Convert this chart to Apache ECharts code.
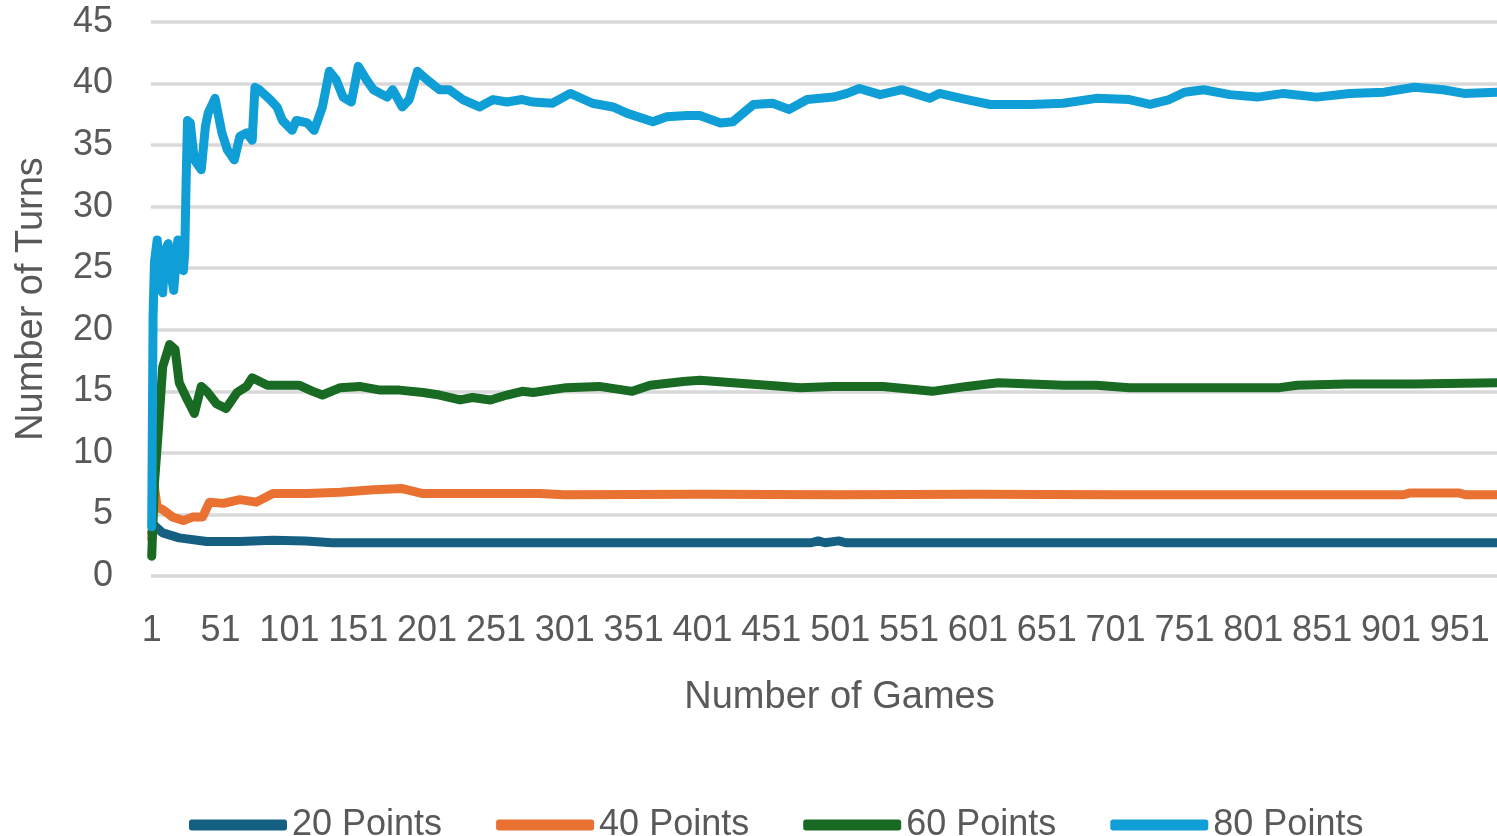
<!DOCTYPE html>
<html>
<head>
<meta charset="utf-8">
<title>Number of Turns vs Number of Games</title>
<script src="https://cdn.jsdelivr.net/npm/echarts@6/dist/echarts.min.js"></script>
<style>
  html, body { margin: 0; padding: 0; background: #fff; }
  #chart { width: 1497px; height: 836px; }
</style>
</head>
<body>
<div id="chart"></div>
<script>
// game numbers on the x axis (1..1000)
const games = []
for (let g = 1; g <= 1000; g++) games.push(String(g))

const seriesNames = ['20 Points', '40 Points', '60 Points', '80 Points']
const seriesColors = ['#156082', '#E97132', '#196B24', '#0F9ED5']

// [game, running average of turns]
const pts20 = [
  [1, 3.5], [3, 4.1], [9, 3.5], [21, 3.1], [41, 2.8], [65, 2.8], [89, 2.9], [113, 2.85],
  [132, 2.7], [300, 2.7], [480, 2.7], [485, 2.85], [490, 2.7], [500, 2.85], [505, 2.7], [1000, 2.7]
]

const pts40 = [
  [1, 3], [3, 7.2], [5, 5.6], [9, 5.4], [16, 4.8], [24, 4.5], [31, 4.8], [38, 4.8], [43, 6],
  [53, 5.9], [65, 6.2], [77, 6], [89, 6.7], [114, 6.7], [138, 6.8], [162, 7], [183, 7.1],
  [198, 6.7], [234, 6.7], [283, 6.7], [300, 6.6], [400, 6.65], [500, 6.6], [600, 6.65],
  [700, 6.6], [800, 6.6], [910, 6.6], [915, 6.75], [950, 6.75], [955, 6.6], [1000, 6.6]
]

const pts60 = [
  [1, 1.6], [3, 7.5], [6, 12.1], [9, 17], [14, 18.8], [18, 18.4], [21, 15.7], [27, 14.3],
  [32, 13.2], [37, 15.4], [41, 15], [48, 14], [55, 13.6], [63, 14.9], [70, 15.4], [74, 16.1],
  [85, 15.5], [96, 15.5], [108, 15.5], [118, 15], [125, 14.7], [138, 15.3], [152, 15.4],
  [167, 15.1], [181, 15.1], [198, 14.9], [210, 14.7], [225, 14.3], [234, 14.5], [247, 14.3],
  [259, 14.7], [270, 15], [278, 14.9], [302, 15.3], [326, 15.4], [350, 15], [363, 15.5],
  [387, 15.8], [399, 15.9], [423, 15.7], [448, 15.5], [472, 15.3], [496, 15.4], [532, 15.4],
  [568, 15], [593, 15.4], [616, 15.7], [663, 15.5], [687, 15.5], [711, 15.3], [760, 15.3],
  [820, 15.3], [833, 15.5], [869, 15.6], [918, 15.6], [978, 15.7], [1000, 15.7]
]

const pts80 = [
  [1, 4], [2, 21], [3, 25.5], [5, 27.3], [7, 24], [9, 23], [11, 26.5], [13, 27], [15, 24.5],
  [17, 23.2], [19, 26], [20, 27.3], [22, 25], [24, 24.8], [25, 26.2], [26, 32], [27, 37],
  [29, 36.8], [32, 33.8], [37, 33], [40, 36.5], [42, 37.6], [47, 38.8], [52, 36], [56, 34.6],
  [61, 33.8], [65, 35.7], [70, 36], [74, 35.4], [76, 39.7], [79, 39.5], [87, 38.7], [92, 38.1],
  [96, 37], [103, 36.2], [106, 37], [114, 36.8], [119, 36.2], [125, 38.1], [130, 41],
  [135, 40.3], [140, 38.9], [146, 38.5], [151, 41.4], [157, 40.3], [162, 39.5], [172, 38.9],
  [176, 39.5], [183, 38.1], [188, 38.7], [194, 41], [201, 40.3], [210, 39.5], [217, 39.5],
  [227, 38.7], [239, 38.1], [249, 38.7], [259, 38.5], [270, 38.7], [278, 38.5], [292, 38.4],
  [305, 39.2], [321, 38.4], [336, 38.1], [346, 37.6], [365, 36.9], [375, 37.3], [390, 37.4],
  [399, 37.4], [414, 36.8], [423, 36.9], [438, 38.3], [452, 38.4], [464, 37.9], [477, 38.7],
  [496, 38.9], [506, 39.2], [515, 39.6], [530, 39.1], [546, 39.5], [566, 38.8], [573, 39.2],
  [593, 38.7], [610, 38.3], [639, 38.3], [663, 38.4], [687, 38.8], [711, 38.7], [726, 38.3],
  [740, 38.7], [751, 39.3], [765, 39.5], [784, 39.1], [804, 38.9], [823, 39.2], [847, 38.9],
  [871, 39.2], [896, 39.3], [918, 39.7], [939, 39.5], [954, 39.2], [978, 39.3], [1000, 39.3]
]

const yTicks = [0, 5, 10, 15, 20, 25, 30, 35, 40, 45]

const allPts = [pts20, pts40, pts60, pts80]
const textColor = '#595959'
const font = 'Liberation Sans'

const chart = echarts.init(document.getElementById('chart'))

chart.setOption({
  animation: false,
  backgroundColor: '#fff',
  textStyle: { fontFamily: font },
  grid: {
    left: 151,
    right: -31,
    top: 22,
    bottom: 260,
    outerBoundsMode: 'none'
  },
  legend: {
    data: seriesNames,
    left: 184,
    top: 802,
    itemWidth: 98,
    itemHeight: 11,
    itemGap: 54,
    icon: 'roundRect',
    textStyle: { fontSize: 36, color: textColor, fontFamily: font }
  },
  xAxis: {
    type: 'category',
    data: games,
    name: 'Number of Games',
    nameLocation: 'middle',
    nameGap: 103,
    nameTextStyle: { fontSize: 38, color: textColor },
    axisLine: { show: false },
    axisTick: { show: false },
    axisLabel: {
      interval: 49,
      hideOverlap: false,
      fontSize: 36,
      color: textColor,
      margin: 37
    }
  },
  yAxis: {
    type: 'value',
    min: yTicks[0],
    max: yTicks[yTicks.length - 1],
    interval: 5,
    name: 'Number of Turns',
    nameLocation: 'middle',
    nameGap: 100,
    nameTextStyle: { fontSize: 38, color: textColor },
    axisLine: { show: false },
    axisTick: { show: false },
    axisLabel: { fontSize: 36, color: textColor, margin: 38 },
    splitLine: { lineStyle: { color: '#d9d9d9', width: 3.5 } }
  },
  series: seriesNames.map((name, i) => ({
    name: name,
    type: 'line',
    data: allPts[i].map(p => [p[0] - 1, p[1]]),
    showSymbol: false,
    symbol: 'none',
    color: seriesColors[i],
    lineStyle: { color: seriesColors[i], width: 9, cap: 'round', join: 'round' }
  }))
})
</script>
</body>
</html>
